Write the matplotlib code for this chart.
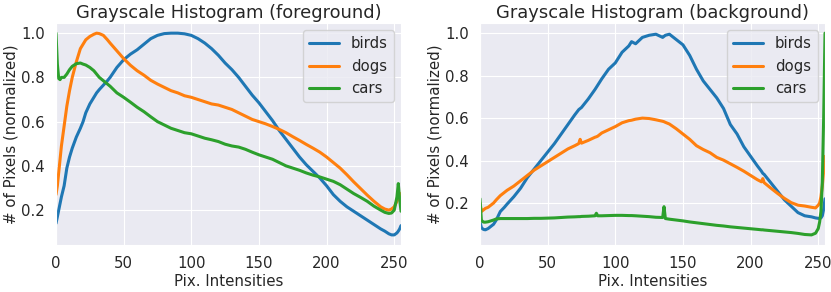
"""Grayscale histograms of foreground / background pixels for three classes."""
import numpy as np
import seaborn as sns

import matplotlib
matplotlib.use("Agg")
import matplotlib.pyplot as plt


# ── Data ────────────────────────────────────────────────────────────────

classes = ["birds", "dogs", "cars"]
colors = ["#1f77b4", "#ff7f0e", "#2ca02c"]

fg_x = [0, 1, 2, 3, 4, 6, 8, 10, 12, 15, 18, 20, 22, 25, 28, 30, 32, 35, 38, 40,
        45, 50, 55, 60, 65, 70, 75, 80, 85, 90, 95, 100, 105, 110, 115, 120, 125,
        130, 135, 140, 145, 150, 155, 160, 165, 170, 175, 180, 185, 190, 195, 200,
        205, 210, 215, 220, 225, 230, 235, 240, 243, 246, 248, 250, 252, 253, 254, 255]

fg_birds = [0.14, 0.17, 0.20, 0.23, 0.26, 0.31, 0.39, 0.44, 0.48, 0.53, 0.57, 0.60,
            0.64, 0.68, 0.71, 0.73, 0.745, 0.765, 0.785, 0.80, 0.845, 0.88, 0.905,
            0.925, 0.95, 0.975, 0.99, 0.998, 1.0, 1.0, 0.997, 0.99, 0.975, 0.955,
            0.93, 0.90, 0.865, 0.835, 0.80, 0.76, 0.72, 0.685, 0.645, 0.605, 0.56,
            0.52, 0.48, 0.44, 0.405, 0.375, 0.345, 0.31, 0.27, 0.24, 0.215, 0.195,
            0.175, 0.155, 0.135, 0.115, 0.105, 0.093, 0.088, 0.088, 0.097, 0.105,
            0.115, 0.13]

fg_dogs = [0.27, 0.31, 0.37, 0.43, 0.49, 0.58, 0.67, 0.74, 0.80, 0.87, 0.93, 0.95,
           0.97, 0.985, 0.995, 1.0, 0.998, 0.99, 0.97, 0.955, 0.92, 0.885, 0.855,
           0.83, 0.81, 0.787, 0.77, 0.755, 0.74, 0.73, 0.717, 0.71, 0.70, 0.69,
           0.68, 0.675, 0.665, 0.655, 0.64, 0.625, 0.61, 0.60, 0.59, 0.578, 0.565,
           0.55, 0.532, 0.515, 0.497, 0.48, 0.462, 0.44, 0.415, 0.39, 0.36, 0.328,
           0.298, 0.268, 0.24, 0.215, 0.205, 0.20, 0.205, 0.215, 0.24, 0.255,
           0.265, 0.275]

fg_cars = [1.0, 0.86, 0.795, 0.79, 0.80, 0.80, 0.815, 0.835, 0.85, 0.862, 0.865,
           0.86, 0.856, 0.845, 0.83, 0.815, 0.80, 0.785, 0.77, 0.76, 0.73, 0.71,
           0.688, 0.665, 0.645, 0.622, 0.60, 0.585, 0.57, 0.56, 0.55, 0.545, 0.535,
           0.525, 0.518, 0.51, 0.498, 0.49, 0.485, 0.475, 0.462, 0.45, 0.44, 0.43,
           0.415, 0.40, 0.39, 0.38, 0.368, 0.358, 0.35, 0.34, 0.33, 0.315, 0.295,
           0.275, 0.258, 0.24, 0.218, 0.20, 0.19, 0.185, 0.187, 0.20, 0.26, 0.32,
           0.25, 0.195]

bg_x = [0, 1, 2, 3, 4, 6, 8, 10, 12, 15, 18, 20, 25, 30, 35, 40, 45, 50, 55, 60,
        65, 70, 73, 74, 75, 80, 85, 86, 87, 90, 95, 100, 105, 110, 112, 115, 120,
        125, 130, 135, 136, 137, 140, 145, 150, 155, 160, 165, 170, 175, 180, 185,
        190, 195, 200, 205, 208, 209, 210, 215, 220, 225, 230, 235, 240, 245, 248,
        250, 251, 252, 253, 254, 255]

bg_birds = [0.11, 0.085, 0.078, 0.075, 0.074, 0.08, 0.09, 0.10, 0.12, 0.16, 0.18,
            0.195, 0.23, 0.27, 0.32, 0.36, 0.40, 0.44, 0.48, 0.525, 0.57, 0.615,
            0.64, 0.645, 0.65, 0.69, 0.735, 0.745, 0.755, 0.785, 0.83, 0.86, 0.91,
            0.94, 0.96, 0.95, 0.98, 0.99, 0.995, 0.98, 0.985, 0.99, 0.995, 0.97,
            0.945, 0.895, 0.83, 0.775, 0.735, 0.695, 0.645, 0.57, 0.525, 0.465,
            0.42, 0.375, 0.35, 0.34, 0.335, 0.295, 0.255, 0.215, 0.185, 0.155,
            0.14, 0.135, 0.13, 0.128, 0.128, 0.13, 0.14, 0.17, 0.22]

bg_dogs = [0.20, 0.16, 0.165, 0.17, 0.175, 0.18, 0.19, 0.20, 0.215, 0.235, 0.25,
           0.26, 0.28, 0.305, 0.33, 0.355, 0.375, 0.395, 0.415, 0.435, 0.455, 0.47,
           0.48, 0.50, 0.482, 0.495, 0.51, 0.512, 0.515, 0.53, 0.545, 0.56, 0.578,
           0.588, 0.59, 0.595, 0.60, 0.598, 0.592, 0.585, 0.583, 0.58, 0.572, 0.55,
           0.525, 0.50, 0.47, 0.452, 0.437, 0.415, 0.402, 0.385, 0.368, 0.35, 0.33,
           0.31, 0.30, 0.315, 0.296, 0.27, 0.245, 0.222, 0.202, 0.19, 0.186, 0.18,
           0.177, 0.19, 0.20, 0.23, 0.28, 0.35, 0.42]

bg_cars = [0.22, 0.12, 0.112, 0.11, 0.11, 0.112, 0.116, 0.12, 0.125, 0.127, 0.127,
           0.127, 0.127, 0.127, 0.127, 0.128, 0.128, 0.129, 0.13, 0.132, 0.134,
           0.135, 0.136, 0.136, 0.137, 0.138, 0.14, 0.152, 0.14, 0.14, 0.141, 0.142,
           0.142, 0.141, 0.141, 0.14, 0.138, 0.136, 0.133, 0.132, 0.183, 0.127,
           0.124, 0.12, 0.116, 0.111, 0.107, 0.103, 0.099, 0.095, 0.092, 0.088,
           0.085, 0.082, 0.079, 0.076, 0.074, 0.074, 0.073, 0.07, 0.067, 0.064,
           0.061, 0.057, 0.052, 0.05, 0.058, 0.08, 0.11, 0.16, 0.30, 0.60, 1.0]


# ── Plotting ────────────────────────────────────────────────────────────

sns.set_style("darkgrid")
plt.rcParams["font.family"] = ["DejaVu Sans"]

fig, axes = plt.subplots(1, 2, figsize=(8.31, 2.92), dpi=100)
fig.subplots_adjust(left=0.0674, right=0.9928, bottom=0.161, top=0.921, wspace=0.229)

panels = [
    ("foreground", fg_x, [fg_birds, fg_dogs, fg_cars]),
    ("background", bg_x, [bg_birds, bg_dogs, bg_cars]),
]

for ax, (name, xs, series) in zip(axes, panels):
    for label, color, ys in zip(classes, colors, series):
        ax.plot(np.asarray(xs), np.asarray(ys), color=color, linewidth=2.2, label=label)
    ax.set_xlim(0, 255)
    ax.set_title(f"Grayscale Histogram ({name})", fontsize=12.9, pad=4)
    ax.set_xlabel("Pix. Intensities", fontsize=10.8, labelpad=2)
    ax.set_ylabel("# of Pixels (normalized)", fontsize=10.8, labelpad=2)
    ax.tick_params(axis="both", labelsize=10.7, length=0, pad=8)
    ax.legend(loc="upper right", fontsize=10.7)

plt.savefig("out.png", dpi=100)
